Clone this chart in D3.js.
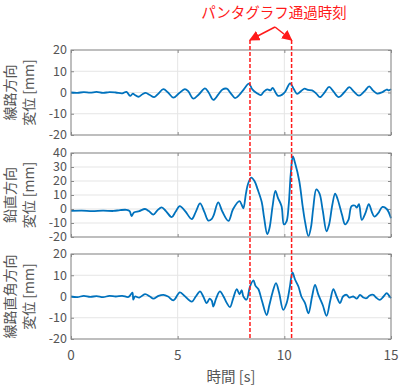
<!DOCTYPE html>
<html>
<head>
<meta charset="utf-8">
<script src="https://cdn.jsdelivr.net/npm/d3@7"></script>
<style>
  body { margin: 0; background: #fff; }
  svg text { font-family: "Noto Sans CJK JP", "Noto Sans", sans-serif; }
</style>
</head>
<body>
<svg width="399" height="388"></svg>
<script>
// time axis ticks
const xTicks = [0, 5, 10, 15];

// 線路方向 displacement [mm]
const t1 = [0, 0.3, 0.6, 0.9, 1.2, 1.5, 1.8, 2.1, 2.4, 2.6, 2.77, 2.9, 3.0, 3.16, 3.35, 3.5, 3.7, 3.9, 4.1, 4.33, 4.55, 4.8, 5.05, 5.34, 5.5, 5.73, 6.0, 6.28, 6.45, 6.67, 6.9, 7.1, 7.3, 7.5, 7.69, 7.9, 8.1, 8.34, 8.5, 8.7, 8.9, 9.05, 9.2, 9.35, 9.45, 9.6, 9.72, 9.9, 10.05, 10.27, 10.45, 10.6, 10.8, 10.95, 11.1, 11.3, 11.5, 11.67, 11.9, 12.1, 12.3, 12.55, 12.8, 13.05, 13.25, 13.5, 13.75, 13.98, 14.15, 14.35, 14.6, 14.8, 14.9, 15];
const v1 = [0, -0.2, 0.2, -0.1, 0.3, -0.2, 0.2, 0, -0.4, 0.3, -1.6, -0.5, -1.2, -2, -0.8, -0.2, -1.2, -2.2, -0.5, 1.6, 0, -2.4, -0.5, 1.6, 0.5, -2.9, -0.8, 1.9, 0, -3.5, -1, 1.4, 1.8, -0.5, -2.6, -1, 1.5, 4.2, 1.5, -0.2, -1.2, 0.5, 1.5, 1, 2.2, -0.2, -1.6, -1, 0.5, 4.3, 1.5, -0.6, 0.8, 1.8, 1.2, 1.0, -0.5, -2.2, 0.2, 2.6, 0.5, -2.2, 0, 2.5, 0.5, -1.5, 0.5, 2.9, 1, -0.5, 0.2, 1.4, 1.0, 1.6];

// 鉛直方向 displacement [mm]
const t2 = [0, 0.5, 1.0, 1.5, 2.0, 2.3, 2.6, 2.75, 2.84, 2.95, 3.2, 3.47, 3.65, 3.86, 4.05, 4.25, 4.45, 4.72, 4.9, 5.1, 5.35, 5.66, 5.85, 6.05, 6.25, 6.44, 6.6, 6.7, 6.9, 7.1, 7.38, 7.6, 7.9, 8.0, 8.08, 8.2, 8.3, 8.45, 8.6, 8.75, 8.94, 9.05, 9.2, 9.3, 9.45, 9.58, 9.7, 9.87, 9.98, 10.1, 10.2, 10.3, 10.4, 10.5, 10.7, 10.85, 10.97, 11.13, 11.25, 11.35, 11.5, 11.65, 11.8, 11.98, 12.1, 12.25, 12.38, 12.5, 12.7, 12.85, 13.0, 13.15, 13.3, 13.4, 13.5, 13.63, 13.8, 13.96, 14.1, 14.22, 14.4, 14.6, 14.8, 15];
const v2 = [-1.4, -1.2, -1.5, -1.2, -1.4, -0.8, -0.6, -1.5, -5, -2.5, -1.5, 0, -1.5, -4, -1, 1.2, -1.5, -5.8, -2, 2.1, -1.5, -7.2, -2, 4, -2, -8.3, -7, -4, 4.7, -2, -8.5, 0, 5.6, 3, 0.5, 11, 18, 22.4, 20, 14, 5, -6, -18, -14, 2, 13, 8, 2, -11, -9, 2, 25, 37.5, 33, 20, 3, -9, -19.5, -13, 0, 14, 11, -1, -16, -11, 3, 11, 7, -4, -11, -8, 2, 2.5, 1, 3.5, -7.8, -3, 3.5, -2, -5.5, -3, 1.5, 0, -6.6];

// 線路直角方向 displacement [mm]
const t3 = [0, 0.3, 0.6, 0.9, 1.2, 1.5, 1.8, 2.1, 2.4, 2.7, 2.88, 2.92, 3.0, 3.2, 3.47, 3.7, 3.86, 4.1, 4.33, 4.55, 4.8, 5.1, 5.3, 5.66, 5.85, 6.05, 6.2, 6.36, 6.5, 6.6, 6.67, 6.8, 6.98, 7.15, 7.3, 7.45, 7.6, 7.77, 7.9, 8.0, 8.08, 8.23, 8.39, 8.55, 8.65, 8.78, 8.95, 9.17, 9.3, 9.45, 9.61, 9.75, 9.95, 10.11, 10.25, 10.38, 10.5, 10.66, 10.8, 10.97, 11.13, 11.3, 11.44, 11.59, 11.8, 11.98, 12.15, 12.3, 12.45, 12.61, 12.75, 12.92, 13.05, 13.23, 13.4, 13.55, 13.7, 13.86, 14.0, 14.17, 14.3, 14.48, 14.65, 14.8, 14.9, 15];
const v3 = [0, -0.3, 0.3, -0.2, 0.2, -0.3, 0.3, 0, 0.3, -0.2, 1.8, -1.5, 0, -0.5, 1.1, 0, -1, 0.3, 0.8, 0, -1.8, 1.9, 0.5, -2.4, 0, 2.4, 0, -3.1, -1, -2, -4.7, -1, 2.4, 0, -3, -5, -1, 3.5, 1, 3, 0, -1.5, 4.7, 7.6, 5, 3.5, -2, -8.7, -4, 2, 6.3, 2, -6.3, -3, 4, 11.3, 8, 4.7, 0, -3.1, -7.9, 0, 5.5, 1, -4, -9.1, -2, 3.5, 0, -3.1, 0, 0.8, -0.5, 0, -1, 0.8, -0.5, -0.8, 0.5, 0.8, -0.5, -1.6, 0, 1.6, 0.5, -0.8];

// pantograph passing times [s]
const passTimes = [8.39, 10.34];

const panels = [
  { t: t1, v: v1, domain: [-20, 20], ticks: [-20, -10, 0, 10, 20], top: 50, bottom: 135, label: ['線路方向', '変位 [mm]'] },
  { t: t2, v: v2, domain: [-20, 40], ticks: [-20, -10, 0, 10, 20, 30, 40], top: 153, bottom: 237, label: ['鉛直方向', '変位 [mm]'] },
  { t: t3, v: v3, domain: [-20, 20], ticks: [-20, -10, 0, 10, 20], top: 254, bottom: 339, label: ['線路直角方向', '変位 [mm]'] }
];

const svg = d3.select('svg');
const left = 71, right = 391;
const gridColor = '#e5e5e5';
const axisColor = '#8a8a8a';
const textColor = '#555';

const x = d3.scaleLinear().domain([0, 15]).range([left, right]);

panels.forEach((p, i) => {
  const y = d3.scaleLinear().domain(p.domain).range([p.bottom, p.top]);
  const g = svg.append('g');

  // grid
  g.selectAll('.gx').data(xTicks).join('line')
    .attr('x1', d => x(d)).attr('x2', d => x(d))
    .attr('y1', p.top).attr('y2', p.bottom)
    .attr('stroke', gridColor).attr('stroke-width', 1);
  g.selectAll('.gy').data(p.ticks).join('line')
    .attr('x1', left).attr('x2', right)
    .attr('y1', d => y(d)).attr('y2', d => y(d))
    .attr('stroke', gridColor).attr('stroke-width', 1);

  // inward ticks, all four sides
  const yl = g.append('g').attr('transform', `translate(${left},0)`)
    .call(d3.axisRight(y).tickValues(p.ticks).tickSize(3).tickFormat(''));
  const yr = g.append('g').attr('transform', `translate(${right},0)`)
    .call(d3.axisLeft(y).tickValues(p.ticks).tickSize(3).tickFormat(''));
  const xb = g.append('g').attr('transform', `translate(0,${p.bottom})`)
    .call(d3.axisTop(x).tickValues(xTicks).tickSize(3).tickFormat(''));
  const xt = g.append('g').attr('transform', `translate(0,${p.top})`)
    .call(d3.axisBottom(x).tickValues(xTicks).tickSize(3).tickFormat(''));
  [yl, yr, xb, xt].forEach(a => {
    a.select('.domain').remove();
    a.selectAll('line').attr('stroke', axisColor);
  });

  // tick labels
  g.selectAll('.yl').data(p.ticks).join('text')
    .attr('x', left - 4).attr('y', d => y(d)).attr('dy', '0.35em')
    .attr('text-anchor', 'end').attr('font-size', 12.5).attr('fill', textColor)
    .text(d => d);

  if (i === panels.length - 1) {
    g.selectAll('.xl').data(xTicks).join('text')
      .attr('x', d => x(d)).attr('y', p.bottom + 16).attr('dy', '0.35em')
      .attr('text-anchor', 'middle').attr('font-size', 13.5).attr('fill', textColor)
      .text(d => d);
  }

  // series
  const line = d3.line().x(d => x(d[0])).y(d => y(d[1])).curve(d3.curveCatmullRom.alpha(0.5));
  g.append('path')
    .datum(p.t.map((t, k) => [t, p.v[k]]))
    .attr('d', line)
    .attr('fill', 'none')
    .attr('stroke', '#0072BD')
    .attr('stroke-width', 1.8)
    .attr('stroke-linejoin', 'round');

  // box
  g.append('rect')
    .attr('x', left).attr('y', p.top)
    .attr('width', right - left).attr('height', p.bottom - p.top)
    .attr('fill', 'none').attr('stroke', axisColor).attr('stroke-width', 1);

  // y label (two rotated lines)
  const cy = (p.top + p.bottom) / 2;
  const lab = g.append('text')
    .attr('transform', `translate(0,${cy}) rotate(-90)`)
    .attr('text-anchor', 'middle').attr('font-size', 14).attr('fill', textColor);
  lab.append('tspan').attr('x', 0).attr('y', 15).text(p.label[0]);
  lab.append('tspan').attr('x', 0).attr('y', 34).text(p.label[1]);
});

// x label
svg.append('text')
  .attr('x', (left + right) / 2).attr('y', 382)
  .attr('text-anchor', 'middle').attr('font-size', 14.5).attr('fill', textColor)
  .text('時間 [s]');

// pantograph passing markers
const red = '#ff1a1a';
svg.selectAll('.pass').data(passTimes).join('line')
  .attr('x1', d => x(d)).attr('x2', d => x(d))
  .attr('y1', 40).attr('y2', 339)
  .attr('stroke', red).attr('stroke-width', 1.5)
  .attr('stroke-dasharray', '4,2');

svg.append('defs').append('marker')
  .attr('id', 'arr').attr('viewBox', '0 0 10 10')
  .attr('refX', 9).attr('refY', 5)
  .attr('markerWidth', 7).attr('markerHeight', 7)
  .attr('orient', 'auto')
  .append('path').attr('d', 'M0,0L10,5L0,10Z').attr('fill', red);

const apex = [275, 27];
svg.selectAll('.arrow').data(passTimes).join('line')
  .attr('x1', apex[0]).attr('y1', apex[1])
  .attr('x2', d => x(d)).attr('y2', 40)
  .attr('stroke', red).attr('stroke-width', 1.5)
  .attr('marker-end', 'url(#arr)');

svg.append('text')
  .attr('x', 274).attr('y', 13).attr('dy', '0.35em')
  .attr('text-anchor', 'middle').attr('font-size', 14.5).attr('fill', red)
  .text('パンタグラフ通過時刻');
</script>
</body>
</html>
